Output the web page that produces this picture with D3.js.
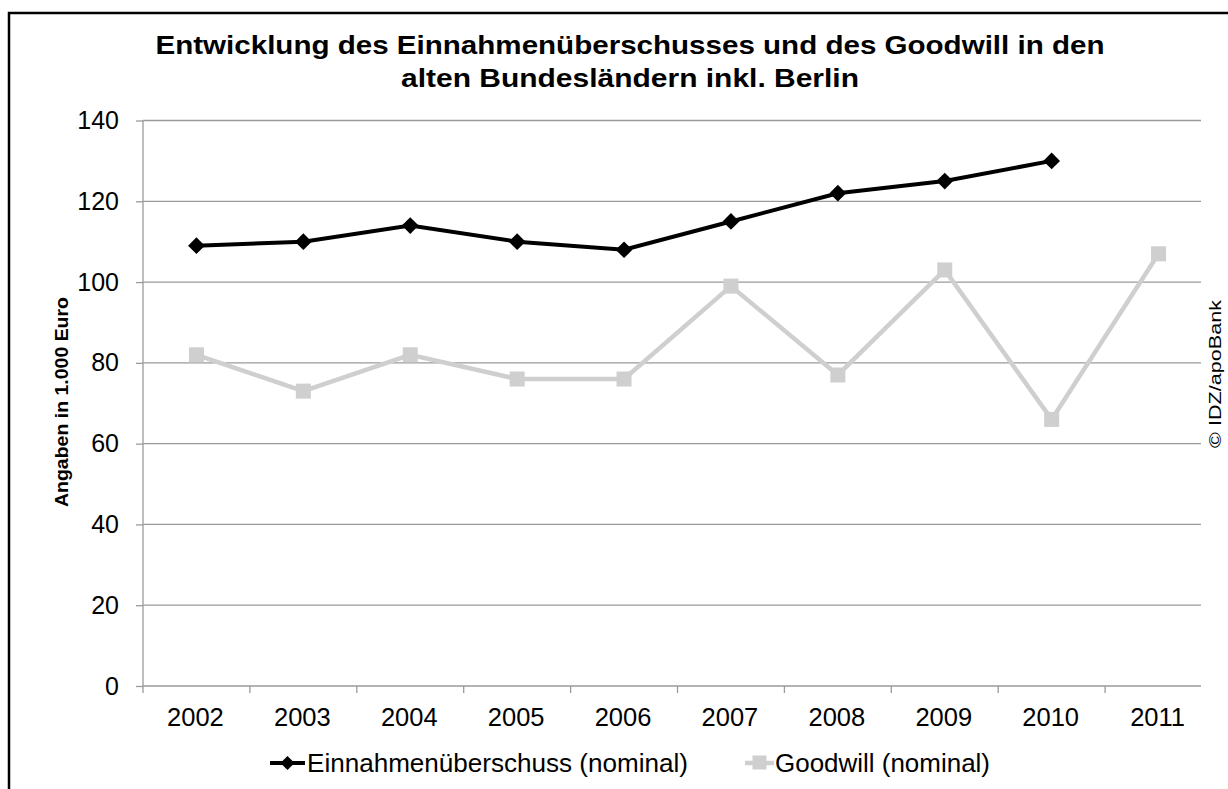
<!DOCTYPE html>
<html><head><meta charset="utf-8">
<script src="https://cdn.jsdelivr.net/npm/d3@7"></script>
<style>body{margin:0;background:#fff}svg{display:block;font-family:"Liberation Sans",Arial,sans-serif}</style>
</head><body><svg id="c" width="1228" height="789"></svg>
<script>
const years = ["2002","2003","2004","2005","2006","2007","2008","2009","2010","2011"];
const einnahmen = [109,110,114,110,108,115,122,125,130,null];
const goodwill = [82,73,82,76,76,99,77,103,66,107];
const yTicks = [0,20,40,60,80,100,120,140];
const titleLines = ["Entwicklung des Einnahmenüberschusses und des Goodwill in den","alten Bundesländern inkl. Berlin"];
const seriesNames = ["Einnahmenüberschuss (nominal)","Goodwill (nominal)"];

const svg = d3.select("#c");
svg.append("rect").attr("x",9).attr("y",13).attr("width",1240).attr("height",800)
  .attr("fill","none").attr("stroke","#000").attr("stroke-width",2.5);

const x = d3.scaleBand().domain(years).range([143,1212]);
const y = d3.scaleLinear().domain([0,140]).range([686,120.5]);
const xr = 1201;
const grid = "#9a9a9a";

svg.append("g").selectAll("line").data(yTicks.filter(d=>d>0)).join("line")
  .attr("x1",143).attr("x2",xr).attr("y1",d=>y(d)).attr("y2",d=>y(d))
  .attr("stroke",grid).attr("stroke-width",1.3);

// y axis
const ya = svg.append("g").attr("transform","translate(143,0)")
  .call(d3.axisLeft(y).tickValues(yTicks).tickSize(7).tickPadding(17));
ya.select(".domain").attr("stroke",grid).attr("stroke-width",1.3).attr("d","M0,120.5V686");
ya.selectAll(".tick line").attr("stroke",grid).attr("stroke-width",1.3);
ya.selectAll("text").attr("font-size",25).attr("fill","#000").attr("font-family","Liberation Sans, Arial, sans-serif");

// x axis
svg.append("line").attr("x1",143).attr("x2",xr).attr("y1",686).attr("y2",686).attr("stroke",grid).attr("stroke-width",1.3);
svg.append("g").selectAll("line").data(years).join("line")
  .attr("x1",d=>x(d)).attr("x2",d=>x(d)).attr("y1",686).attr("y2",693)
  .attr("stroke",grid).attr("stroke-width",1.3);
svg.append("g").selectAll("text").data(years).join("text")
  .attr("x",d=>x(d)+x.bandwidth()/2-1).attr("y",726).attr("text-anchor","middle")
  .attr("font-size",25.5).text(d=>d);

const cx = d=>x(d)+x.bandwidth()/2;
// goodwill
const gw = years.map((d,i)=>({k:d,v:goodwill[i]}));
svg.append("path").datum(gw).attr("fill","none").attr("stroke","#cfcfcf").attr("stroke-width",4.5)
  .attr("d",d3.line().x(d=>cx(d.k)).y(d=>y(d.v)));
svg.append("g").selectAll("rect").data(gw).join("rect")
  .attr("x",d=>cx(d.k)-7.5).attr("y",d=>y(d.v)-7.5).attr("width",15).attr("height",15).attr("fill","#cfcfcf");

// einnahmen
const en = years.map((d,i)=>({k:d,v:einnahmen[i]})).filter(d=>d.v!=null);
svg.append("path").datum(en).attr("fill","none").attr("stroke","#000").attr("stroke-width",4)
  .attr("d",d3.line().x(d=>cx(d.k)).y(d=>y(d.v)));
svg.append("g").selectAll("path").data(en).join("path")
  .attr("d",d3.symbol().type(d3.symbolSquare).size(140)).attr("transform",d=>`translate(${cx(d.k)},${y(d.v)}) rotate(45)`).attr("fill","#000");

// title
const tl = [949, 458];
svg.append("g").selectAll("text").data(titleLines).join("text")
  .attr("x",630).attr("y",(d,i)=>54+i*33).attr("text-anchor","middle")
  .attr("font-size",26).attr("font-weight","bold")
  .attr("textLength",(d,i)=>tl[i]).attr("lengthAdjust","spacingAndGlyphs").text(d=>d);

// y title
svg.append("text").attr("transform","translate(68,402) rotate(-90)").attr("text-anchor","middle")
  .attr("font-size",17.5).attr("font-weight","bold")
  .attr("textLength",210).attr("lengthAdjust","spacingAndGlyphs").text("Angaben in 1.000 Euro");

// copyright
svg.append("text").attr("transform","translate(1221,374) rotate(-90)").attr("text-anchor","middle")
  .attr("font-size",17).attr("textLength",148).attr("lengthAdjust","spacingAndGlyphs").text("© IDZ/apoBank");

// legend
const lg = svg.append("g");
lg.append("line").attr("x1",270).attr("x2",305).attr("y1",763).attr("y2",763).attr("stroke","#000").attr("stroke-width",4);
lg.append("path").attr("transform","translate(287.5,763) rotate(45)").attr("d",d3.symbol().type(d3.symbolSquare).size(100)).attr("fill","#000");
lg.append("text").attr("x",307).attr("y",772).attr("font-size",25)
  .attr("textLength",381).attr("lengthAdjust","spacingAndGlyphs").text(seriesNames[0]);
lg.append("line").attr("x1",745).attr("x2",774).attr("y1",763).attr("y2",763).attr("stroke","#cfcfcf").attr("stroke-width",4.5);
lg.append("rect").attr("x",752.5).attr("y",755.5).attr("width",14).attr("height",14).attr("fill","#cfcfcf");
lg.append("text").attr("x",775).attr("y",772).attr("font-size",25)
  .attr("textLength",215).attr("lengthAdjust","spacingAndGlyphs").text(seriesNames[1]);
</script></body></html>
